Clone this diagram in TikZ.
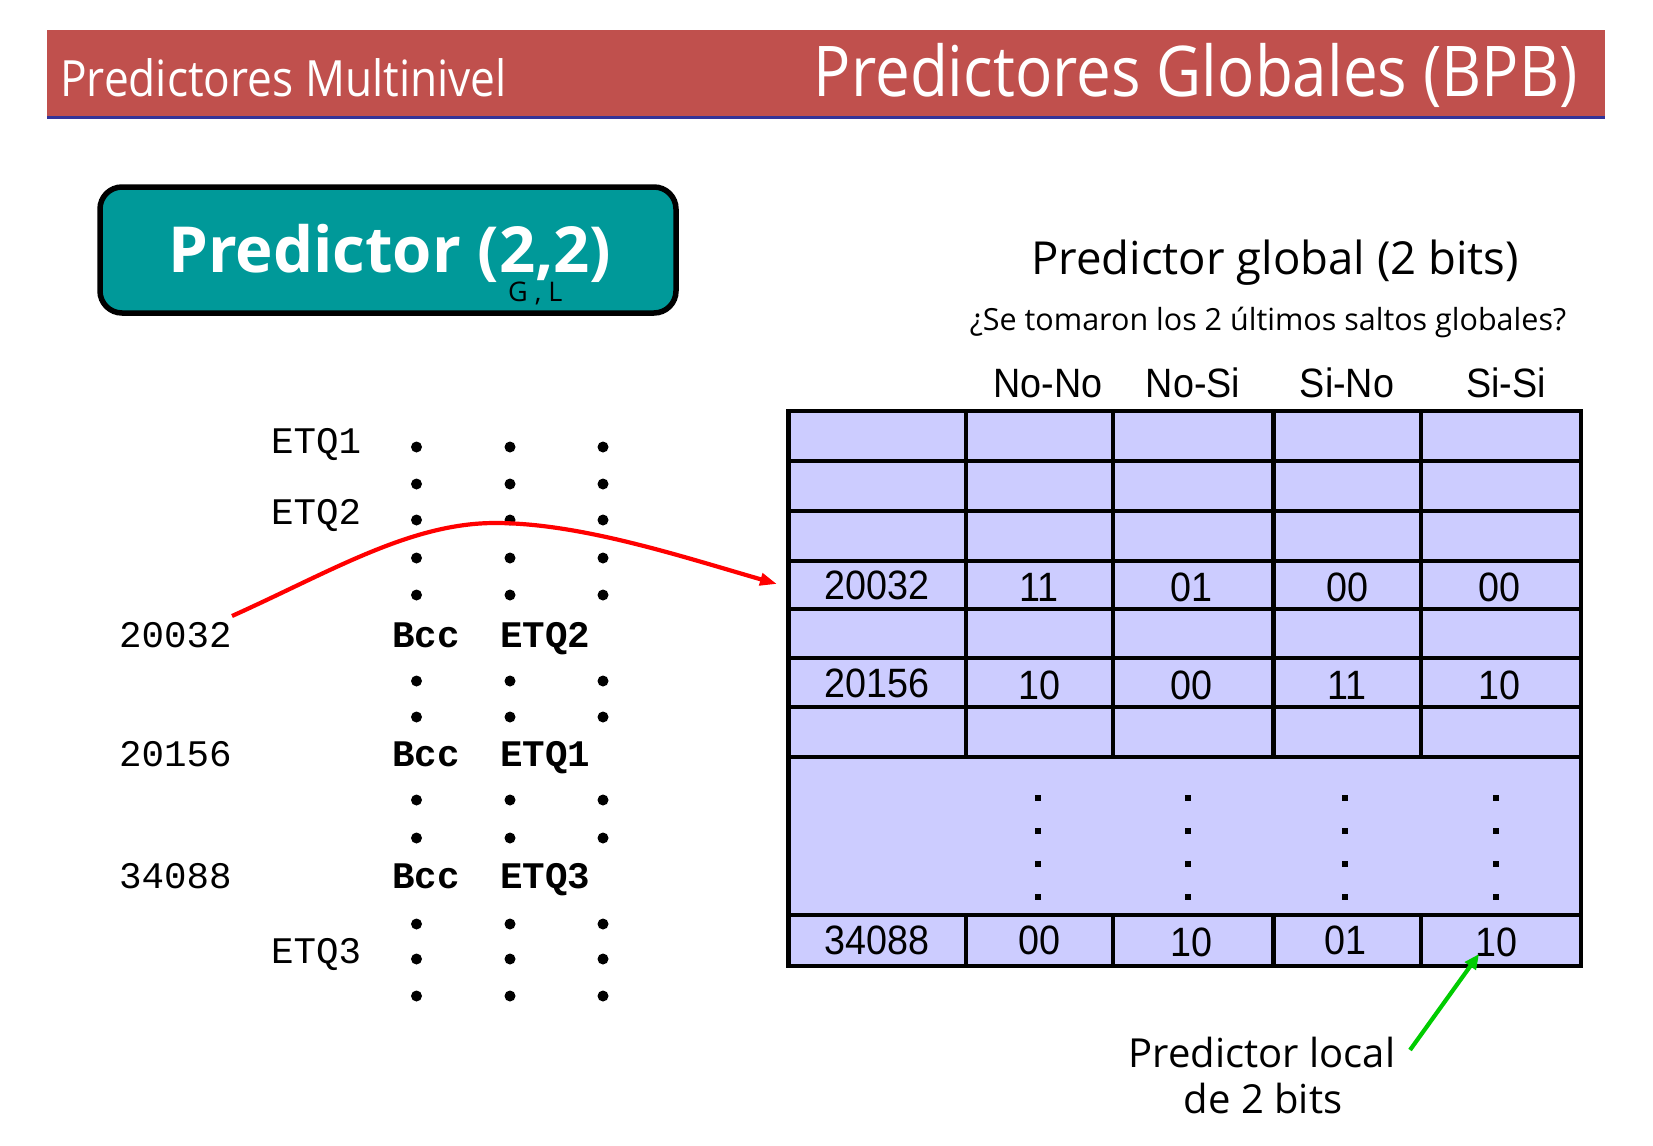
\documentclass[tikz,border=0pt]{standalone}
\usepackage{fontspec}
\setmainfont{Open Sans}
\newfontfamily\condf[FakeStretch=0.885]{Open Sans}
\newfontfamily\arialf[FakeStretch=0.92]{Liberation Sans}
\newfontfamily\monof{Liberation Mono}
\usetikzlibrary{arrows.meta}
\definecolor{hdr}{RGB}{192,80,77}
\definecolor{hdrline}{RGB}{51,51,153}
\definecolor{tealbox}{RGB}{0,153,153}
\definecolor{lav}{RGB}{204,204,255}
\definecolor{grn}{RGB}{0,204,0}
\tikzset{
  tl/.style={line width=4.5pt, black},
  val/.style={font=\arialf\fontsize{41}{41}\selectfont, inner sep=0pt},
  code/.style={font=\monof\fontsize{37.5}{37.5}\selectfont, anchor=base west, inner sep=0pt},
  codeb/.style={font=\monof\bfseries\fontsize{37.5}{37.5}\selectfont, anchor=base west, inner sep=0pt},
  bdot/.style={circle, fill=black, minimum size=11pt, inner sep=0pt},
  sdot/.style={fill=black, minimum size=5.5pt, inner sep=0pt},
  comic/.style={inner sep=0pt, anchor=base},
}
\begin{document}
\begin{tikzpicture}[x=1pt,y=-1pt]
\useasboundingbox (0,0) rectangle (1653,1145);
% header
\fill[hdr] (47,30) rectangle (1605,116);
\fill[hdrline] (47,116) rectangle (1605,119);
\node[inner sep=0pt, anchor=base west, white, font=\condf\fontsize{50}{50}\selectfont] (hleft) at (60,97) {Predictores Multinivel};
\node[inner sep=0pt, anchor=base east, white, font=\condf\fontsize{70}{70}\selectfont] (hright) at (1578,97) {Predictores Globales (BPB)};
% predictor box
\node[draw=black, line width=5.5pt, rounded corners=22pt, fill=tealbox, minimum width=576pt, minimum height=126pt, inner sep=0pt] (pbox) at (388,250) {};
\node[inner sep=0pt, anchor=base west, white, font=\bfseries\fontsize{63.5}{63.5}\selectfont] (ptext) at (168,272) {Predictor (2,2)};
\node[inner sep=0pt, anchor=base west, black, font=\fontsize{27}{27}\selectfont] (psub) at (508,301) {G , L};
% titles
\node[comic, font=\fontsize{45.5}{45.5}\selectfont] (gtitle) at (1275,274) {Predictor global (2 bits)};
\node[comic, font=\fontsize{30.5}{30.5}\selectfont] (gq) at (1268,330) {¿Se tomaron los 2 últimos saltos globales?};
% column headers
\node[val, anchor=base] (h1) at (1048,397) {No-No};
\node[val, anchor=base] (h2) at (1193,397) {No-Si};
\node[val, anchor=base] (h3) at (1347,397) {Si-No};
\node[val, anchor=base] (h4) at (1506,397) {Si-Si};
% table
\fill[lav] (788.5,411) rectangle (1581,966);
\foreach \yy in {461,511,561,609,658,707,757,915}
  \draw[tl] (788.5,\yy) -- (1581,\yy);
\foreach \xx in {966,1113,1273.5,1421} {
  \draw[tl] (\xx,411) -- (\xx,757);
  \draw[tl] (\xx,915) -- (\xx,966);
}
\draw[tl] (788.5,411) rectangle (1581,966);
% values
\node[val] (v40) at (877,585) {20032};
\node[val] (v41) at (1039,587) {11};
\node[val] (v42) at (1191,587) {01};
\node[val] (v43) at (1347,587) {00};
\node[val] (v44) at (1499,587) {00};
\node[val] (v60) at (877,683) {20156};
\node[val] (v61) at (1039,685) {10};
\node[val] (v62) at (1191,685) {00};
\node[val] (v63) at (1347,685) {11};
\node[val] (v64) at (1499,685) {10};
\node[val] (v90) at (877,940) {34088};
\node[val] (v91) at (1039,940) {00};
\node[val] (v92) at (1191,942) {10};
\node[val] (v93) at (1345,940) {01};
\node[val] (v94) at (1496,942) {10};
\foreach \xx in {1038,1188,1345,1496}
  \foreach \yy in {798,831,864,897}
    \node[sdot] at (\xx,\yy) {};
% code listing
\node[code] (e1) at (271,453) {ETQ1};
\node[code] (e2) at (271,524) {ETQ2};
\node[code] (a20032) at (119,647) {20032};
\node[codeb] (b1) at (392,647) {Bcc};
\node[codeb] (t1) at (500,647) {ETQ2};
\node[code] (a20156) at (119,766) {20156};
\node[codeb] (b2) at (392,766) {Bcc};
\node[codeb] (t2) at (500,766) {ETQ1};
\node[code] (a34088) at (119,888) {34088};
\node[codeb] (b3) at (392,888) {Bcc};
\node[codeb] (t3) at (500,888) {ETQ3};
\node[code] (e3) at (271,963) {ETQ3};
\foreach \xx in {416.5,510,603}
  \foreach \yy in {447,484,520,558,595,681,717,800,838,924,959,996}
    \node[bdot] at (\xx,\yy) {};
% red arrow
\coordinate (rstart) at (232,616);
\coordinate (rtip) at (777,584);
\draw[red, line width=4.2pt, -{Triangle[length=17pt,width=12pt]}] (rstart) .. controls (330,572) and (410,523) .. (495,523) .. controls (580,523) and (680,556) .. (rtip);
% local predictor label
\node[comic, font=\fontsize{40}{40}\selectfont] (ll1) at (1262,1067) {Predictor local};
\node[comic, font=\fontsize{40}{40}\selectfont] (ll2) at (1263,1113) {de 2 bits};
\coordinate (gstart) at (1410,1050);
\coordinate (gtip) at (1479,954);
\draw[grn, line width=4.2pt, -{Triangle[length=15pt,width=13pt]}] (gstart) -- (gtip);
\end{tikzpicture}
\end{document}
